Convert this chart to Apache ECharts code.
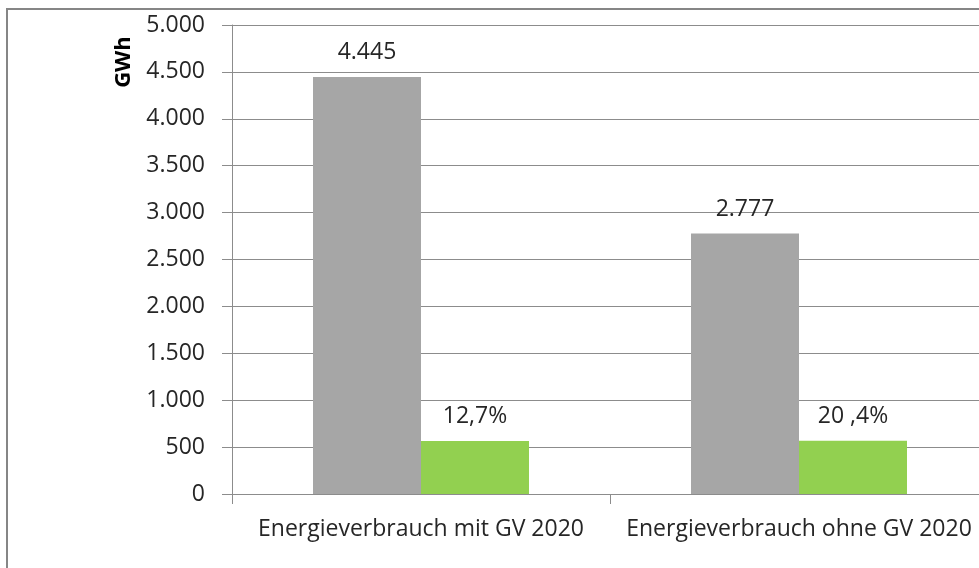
<!DOCTYPE html>
<html>
<head>
<meta charset="utf-8">
<style>
  html, body { margin: 0; padding: 0; background: #fff; }
  #chart { width: 979px; height: 568px; }
</style>
<script src="https://cdn.jsdelivr.net/npm/echarts@6/dist/echarts.min.js"></script>
</head>
<body>
<div id="chart"></div>
<script>
// Energy consumption with / without GV 2020 (GWh)
const categories = ['Energieverbrauch mit GV 2020', 'Energieverbrauch ohne GV 2020'];
const totalValues = [4445, 2777];
const shareValues = [565, 567];
const shareLabels = ['12,7%', '20 ,4%'];
const yTicks = { min: 0, max: 5000, interval: 500 };

const FONT = '"Open Sans", "DejaVu Sans", sans-serif';
const TEXT = '#262626';
const LINE = '#8c8c8c';
const SIZE = 23;

function deNumber(v) {
  return String(Math.round(v)).replace(/\B(?=(\d{3})+(?!\d))/g, '.');
}

const chart = echarts.init(document.getElementById('chart'), null, { renderer: 'canvas' });
chart.setOption({
  animation: false,
  backgroundColor: '#ffffff',
  // the plot area runs slightly past the right edge of the canvas
  grid: {
    left: 232, width: 756, top: 25, height: 469,
    containLabel: false, outerBoundsMode: 'none'
  },
  xAxis: {
    type: 'category',
    data: categories,
    axisLine: { show: true, lineStyle: { color: LINE, width: 1 } },
    axisTick: { show: true, length: 10, alignWithLabel: false, lineStyle: { color: LINE } },
    axisLabel: { color: TEXT, fontFamily: FONT, fontSize: SIZE, margin: 24, interval: 0 },
    splitLine: { show: false }
  },
  yAxis: {
    type: 'value',
    min: yTicks.min,
    max: yTicks.max,
    interval: yTicks.interval,
    axisLine: { show: true, lineStyle: { color: LINE, width: 1 } },
    axisTick: { show: true, length: 10, lineStyle: { color: LINE } },
    axisLabel: {
      color: TEXT, fontFamily: FONT, fontSize: SIZE, margin: 27,
      formatter: deNumber
    },
    splitLine: { show: true, lineStyle: { color: LINE, width: 1 } }
  },
  series: [
    {
      name: 'Energieverbrauch',
      type: 'bar',
      data: totalValues,
      barGap: '0%',
      barCategoryGap: '42.86%',
      itemStyle: { color: '#a6a6a6' },
      label: {
        show: true, position: 'top', distance: 13,
        color: TEXT, fontFamily: FONT, fontSize: SIZE,
        formatter: p => deNumber(p.value)
      }
    },
    {
      name: 'Anteil',
      type: 'bar',
      data: shareValues,
      itemStyle: { color: '#92d050' },
      label: {
        show: true, position: 'top', distance: 13,
        color: TEXT, fontFamily: FONT, fontSize: SIZE,
        formatter: p => shareLabels[p.dataIndex]
      }
    }
  ],
  graphic: [
    {
      type: 'rect',
      shape: { x: 7, y: 9, width: 1000, height: 600 },
      style: { fill: 'none', stroke: '#868686', lineWidth: 2 },
      silent: true
    },
    {
      type: 'text',
      x: 124, y: 62,
      rotation: Math.PI / 2,
      style: {
        text: 'GWh', fill: '#000', fontFamily: FONT, fontSize: 22, fontWeight: 'bold',
        align: 'center', verticalAlign: 'middle'
      }
    }
  ]
});
</script>
</body>
</html>
